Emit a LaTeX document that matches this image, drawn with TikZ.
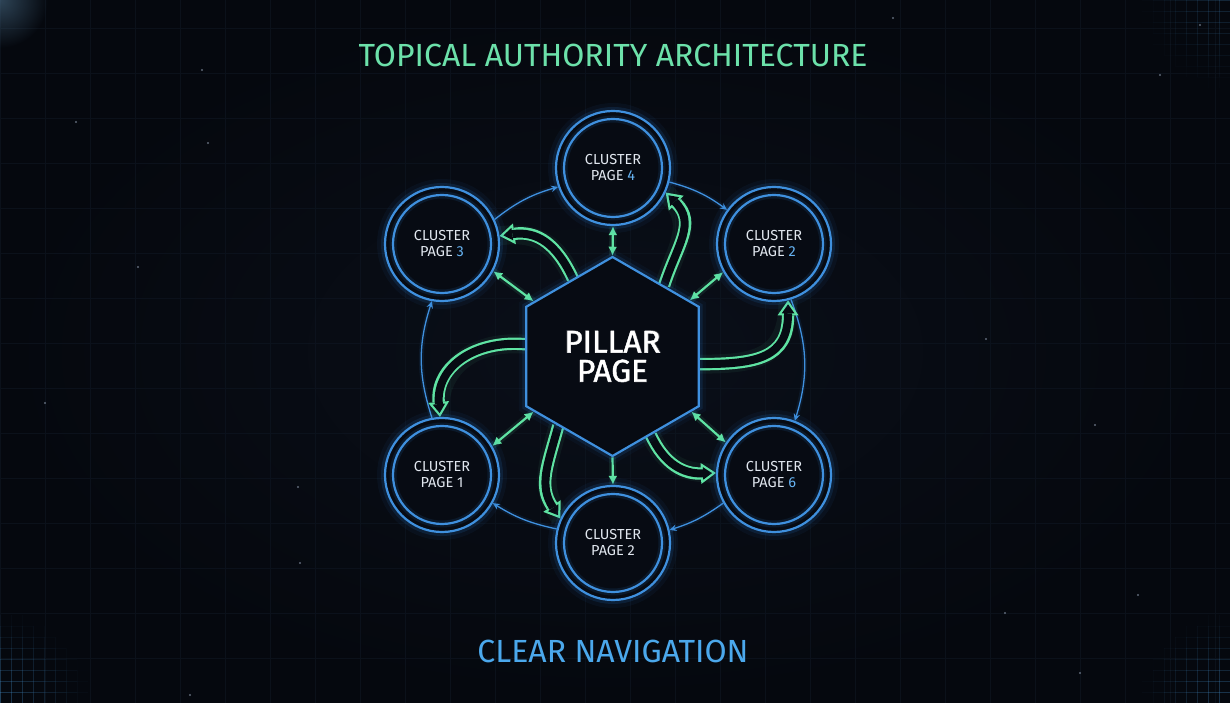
\documentclass[tikz,border=0pt]{standalone}
\usepackage{fontspec}
\setmainfont{Fira Sans}
\newfontfamily\pillarfont[FakeBold=1.2]{Fira Sans}
\usetikzlibrary{arrows.meta,shapes.geometric,fadings}
\definecolor{bgc}{HTML}{070B13}
\definecolor{bgcenter}{HTML}{0A0F19}
\definecolor{bgedge}{HTML}{05080E}
\definecolor{ringblue}{HTML}{3F90DE}
\definecolor{glowblue}{HTML}{2C7FD6}
\definecolor{lgreen}{HTML}{5FE3A3}
\definecolor{titlegreen}{HTML}{6CE1AA}
\definecolor{navblue}{HTML}{4BA8EC}
\definecolor{numblue}{HTML}{66B3F2}
\definecolor{txt}{HTML}{E0E6EE}
\definecolor{gridc}{HTML}{0F1723}
\definecolor{cgrid}{HTML}{3A78AA}
\definecolor{starc}{HTML}{9AA8BC}
\definecolor{glarec}{HTML}{4F7592}
\tikzfading[name=glowfade, inner color=transparent!0, outer color=transparent!100]
\pgfdeclarelayer{back}
\pgfdeclarelayer{conn}
\pgfsetlayers{back,conn,main}
\begin{document}
\begin{tikzpicture}[x=1pt,y=1pt,
  cluster/.style={circle, draw=ringblue, line width=2.2pt, minimum size=114pt, inner sep=0pt, fill=bgc, text=txt, align=center, font=\fontsize{14.5}{16}\selectfont,
    preaction={draw=glowblue, line width=8pt, opacity=0.14},
    preaction={draw=glowblue, line width=16pt, opacity=0.06}},
  innerring/.style={draw=ringblue, line width=2.2pt, preaction={draw=glowblue, line width=7pt, opacity=0.12}},
  pillar/.style={regular polygon, regular polygon sides=6, shape border rotate=30, minimum size=199pt, inner sep=0pt, draw=ringblue, line width=2.2pt, fill=bgc, align=center,
    preaction={draw=glowblue, line width=8pt, opacity=0.14},
    preaction={draw=glowblue, line width=15pt, opacity=0.05}},
  pillartext/.style={text=white, align=center, font=\pillarfont\fontsize{31.5}{29}\selectfont},
  barrow/.style={draw=ringblue, line width=1.3pt, -{Stealth[length=7pt,width=6.5pt,inset=2.5pt]}},
  bglow/.style={draw=glowblue, line width=5pt, opacity=0.10},
  garrow/.style={draw=lgreen, line width=2.2pt, {Latex[length=9pt,width=9pt]}-{Latex[length=9pt,width=9pt]}},
  garrowone/.style={draw=lgreen, line width=2.2pt, -{Latex[length=9pt,width=9pt]}},
  gglow/.style={draw=lgreen, line width=7pt, opacity=0.10},
  dgout/.style={draw=lgreen, line width=12.4pt, -{Triangle[length=15pt,width=21pt,line width=0pt]}},
  dgin/.style={draw=bgc, line width=8pt, shorten >=3.9pt, -{Triangle[length=9pt,width=12.6pt,line width=0pt]}},
  dgglow/.style={draw=lgreen, line width=19pt, opacity=0.06},
  star/.style={fill=starc, opacity=0.6},
  heading/.style={font=\fontsize{32}{34}\selectfont}
]
\useasboundingbox (0,0) rectangle (1230,703);
% nodes
\node[pillar] (hex) at (612.5,346.5) {};
\node[pillartext, opacity=0.18, scale=1.02] (pglow) at (612.5,346.5) {PILLAR\\PAGE};
\node[pillartext] (ptext) at (612.5,346.5) {PILLAR\\PAGE};
\node[cluster] (c4) at (613,535) {CLUSTER\\PAGE \textcolor{numblue}{4}};
\node[cluster] (c3) at (442,459) {CLUSTER\\PAGE \textcolor{numblue}{3}};
\node[cluster] (c2) at (774,459) {CLUSTER\\PAGE \textcolor{numblue}{2}};
\node[cluster] (c1) at (442,228) {CLUSTER\\PAGE 1};
\node[cluster] (c6) at (774,228) {CLUSTER\\PAGE \textcolor{numblue}{6}};
\node[cluster] (c5) at (613,160) {CLUSTER\\PAGE 2};
\foreach \n in {c1,c2,c3,c4,c5,c6}{\draw[innerring] (\n.center) circle (49);}
\node[heading, text=titlegreen] (title) at (613,648) {TOPICAL AUTHORITY ARCHITECTURE};
\node[heading, text=navblue] (nav) at (613,52) {CLEAR NAVIGATION};
% background
\begin{pgfonlayer}{back}
\shade[inner color=bgcenter, outer color=bgedge] (0,0) rectangle (1230,703);
\draw[gridc, line width=0.5pt, opacity=0.6, step=45] (0,0) grid (1230,703);
\fill[glarec, opacity=0.55, path fading=glowfade] (0,703) circle (48);
\foreach \i in {0,...,8}{\foreach \j in {0,...,7}{
  \pgfmathsetmacro\op{max(0,0.45*(1-veclen(\i*11,\j*11)/85))}
  \pgfmathsetmacro\opb{0.6*\op}
  \draw[cgrid, line width=0.5pt, opacity=\op] (\i*11,\j*11) -- ++(11,0) (\i*11,\j*11) -- ++(0,11);
  \draw[cgrid, line width=0.5pt, opacity=\op] (1230-\i*11,\j*11) -- ++(-11,0) (1230-\i*11,\j*11) -- ++(0,11);
  \draw[cgrid, line width=0.5pt, opacity=\opb] (1230-\i*11,703-\j*11) -- ++(-11,0) (1230-\i*11,703-\j*11) -- ++(0,-11);
}}
\foreach \x/\y in {202/633,76/581,208/560,138/436,298/216,986/364,1095/278,1138/108,1200/678,190/8,1160/628,893/685,1005/90,1080/30,300/140,45/300}{
  \fill[star] (\x,\y) circle (1.1);
}
\end{pgfonlayer}
% connectors
\begin{pgfonlayer}{conn}
\foreach \s/\e/\b in {c3.25/c4.199/11, c4.346/c2.144/10.5, c2.287/c6.69/19, c6.209/c5.13/9, c5.166/c1.331/10, c1.100/c3.260/18}{
  \draw[bglow] (\s) to[bend left=\b] (\e);
  \draw[barrow] (\s) to[bend left=\b] (\e);
}
\foreach \s/\e in {c4.south/hex.90, c3.332/hex.145, c2.209/hex.36, c1.30/hex.215, c6.146/hex.325}{
  \draw[gglow] (\s) -- (\e);
  \draw[garrow] (\s) -- (\e);
}
\draw[gglow] (hex.270) -- (c5.north);
\draw[garrowone] (hex.270) -- (c5.north);
\foreach \s/\e/\o/\i/\l in {hex.117/c3.8/115/8/1.15, hex.54/c4.335/72/-45/1.2, hex.355/c2.284/0/-90/1.35, hex.172/c1.92/175/95/1.15, hex.232/c5.155/255/124/1.1, hex.296/c6.178/295/182/1.1}{
  \draw[dgglow] (\s) to[out=\o,in=\i,looseness=\l] (\e);
  \draw[dgout] (\s) to[out=\o,in=\i,looseness=\l] (\e);
  \draw[dgin] (\s) to[out=\o,in=\i,looseness=\l] (\e);
}
\end{pgfonlayer}
\end{tikzpicture}
\end{document}
